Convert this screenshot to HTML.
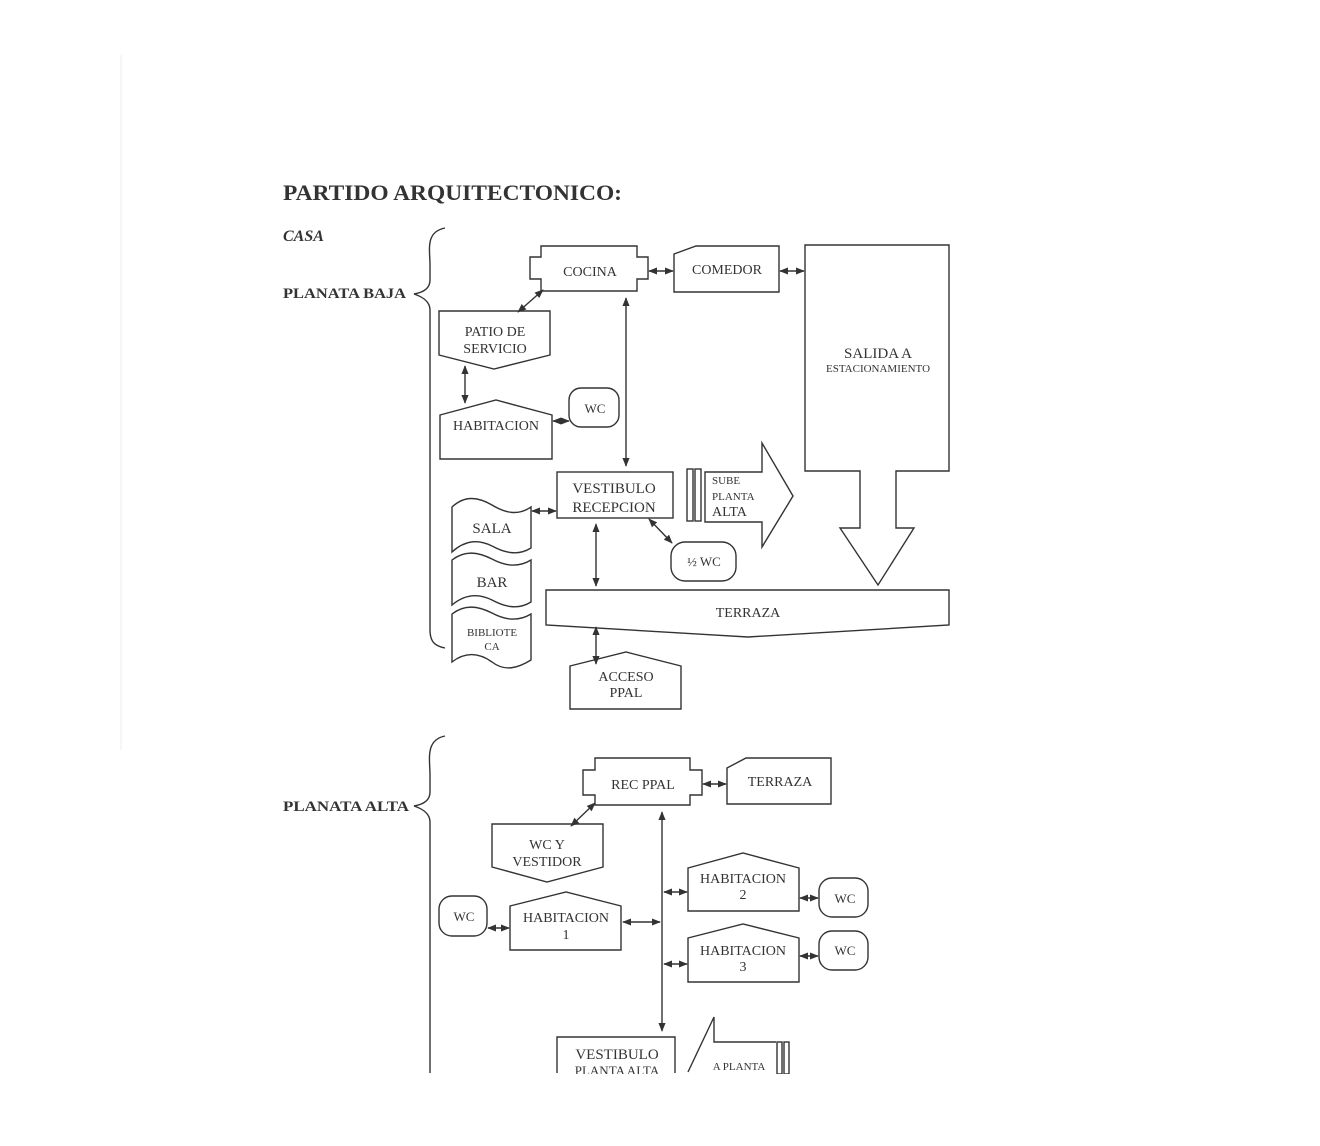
<!DOCTYPE html>
<html><head><meta charset="utf-8"><style>
html,body{margin:0;padding:0;background:#fff;}
svg{display:block;}
text{font-family:"Liberation Serif",serif;fill:#333;}
</style></head><body>
<svg width="1320" height="1146" viewBox="0 0 1320 1146" xmlns="http://www.w3.org/2000/svg">
<defs>
<marker id="a" viewBox="0 0 10 10" refX="9" refY="5" markerWidth="9" markerHeight="9" markerUnits="userSpaceOnUse" orient="auto-start-reverse"><path d="M0,1 L10,5 L0,9 Z" fill="#333"/></marker>
</defs>
<line x1="121" y1="55" x2="121" y2="750" stroke="#eee" stroke-width="1"/>
<g stroke="#333" stroke-width="1.4" fill="none">
<!-- braces -->
<path d="M445,228 C425,232 430,250 430,265 L430,280 C430,290 420,293 414,294 C420,296 430,300 430,310 L430,630 C430,642 435,646 445,648"/>
<path d="M445,736 C425,740 430,760 430,775 L430,792 C430,802 420,805 414,806 C420,808 430,812 430,822 L430,1073"/>
<!-- cocina -->
<path d="M541,246 H637 V257 H648 V279 H637 V291 H541 V279 H530 V257 H541 Z"/>
<path d="M674,254 L696,246 H779 V292 H674 Z"/>
<path d="M805,245 H949 V471 H896 V528 H914 L878,585 L840,528 H860 V471 H805 Z"/>
<path d="M439,311 H550 V355 L494,369 L439,355 Z"/>
<path d="M440,415 L496,400 L552,415 V459 H440 Z"/>
<rect x="569" y="388" width="50" height="39" rx="12"/>
<rect x="557" y="472" width="116" height="46"/>
<rect x="687" y="469" width="6" height="52"/><rect x="695" y="469" width="6" height="52"/>
<path d="M705,472 H762 V443 L793,496 L762,547 V522 H705 Z"/>
<rect x="671" y="542" width="65" height="39" rx="14"/>
<path d="M452,507 C465,495 478,497 492,505 C505,513 518,516 531,507 V548 C518,556 505,553 492,546 C478,539 465,540 452,552 Z"/>
<path d="M452,560 C465,550 478,552 492,559 C505,566 518,568 531,560 V602 C518,610 505,607 492,600 C478,593 465,594 452,605 Z"/>
<path d="M452,614 C465,604 478,606 492,613 C505,620 518,622 531,614 V660 C518,668 505,672 492,662 C478,652 465,652 452,662 Z"/>
<path d="M546,590 H949 V625 L748,637 L546,625 Z"/>
<path d="M570,666 L626,652 L681,666 V709 H570 Z"/>
<!-- arrows upper -->
<g marker-start="url(#a)" marker-end="url(#a)">
<line x1="649" y1="271" x2="673" y2="271"/>
<line x1="780" y1="271" x2="804" y2="271"/>
<line x1="543" y1="290" x2="518" y2="312"/>
<line x1="465" y1="366" x2="465" y2="403"/>
<line x1="553" y1="421" x2="569" y2="421"/>
<line x1="626" y1="298" x2="626" y2="466"/>
<line x1="532" y1="511" x2="556" y2="511"/>
<line x1="649" y1="519" x2="672" y2="543"/>
<line x1="596" y1="524" x2="596" y2="586"/>
<line x1="596" y1="627" x2="596" y2="664"/>
</g>
<!-- lower -->
<path d="M595,758 H690 V770 H702 V795 H690 V805 H595 V795 H583 V770 H595 Z"/>
<path d="M727,768 L746,758 H831 V804 H727 Z"/>
<path d="M492,824 H603 V867 L547,882 L492,867 Z"/>
<path d="M688,868 L743,853 L799,868 V911 H688 Z"/>
<path d="M688,938 L743,924 L799,938 V982 H688 Z"/>
<path d="M510,906 L566,892 L621,906 V950 H510 Z"/>
<rect x="819" y="878" width="49" height="39" rx="13"/>
<rect x="819" y="931" width="49" height="39" rx="13"/>
<rect x="439" y="896" width="48" height="40" rx="13"/>
<path d="M557,1073 V1037 H675 V1073"/>
<path d="M688,1072 L714,1017 V1042 H776"/>
<rect x="777" y="1042" width="5" height="32"/><rect x="784" y="1042" width="5" height="32"/>
<g marker-start="url(#a)" marker-end="url(#a)">
<line x1="703" y1="784" x2="726" y2="784"/>
<line x1="595" y1="803" x2="571" y2="826"/>
<line x1="662" y1="812" x2="662" y2="1031"/>
<line x1="664" y1="892" x2="687" y2="892"/>
<line x1="664" y1="964" x2="687" y2="964"/>
<line x1="800" y1="898" x2="818" y2="898"/>
<line x1="800" y1="956" x2="818" y2="956"/>
<line x1="488" y1="928" x2="509" y2="928"/>
<line x1="623" y1="922" x2="660" y2="922"/>
</g>
</g>
<text x="283" y="200" font-size="22" font-weight="bold" textLength="339" lengthAdjust="spacingAndGlyphs">PARTIDO ARQUITECTONICO:</text>
<text x="283" y="241" font-size="16" font-weight="bold" font-style="italic">CASA</text>
<text x="283" y="298" font-size="15" font-weight="bold" textLength="123" lengthAdjust="spacingAndGlyphs">PLANATA BAJA</text>
<text x="283" y="811" font-size="15" font-weight="bold" textLength="126" lengthAdjust="spacingAndGlyphs">PLANATA ALTA</text>
<g font-size="14" text-anchor="middle">
<text x="590" y="276">COCINA</text>
<text x="727" y="274">COMEDOR</text>
<text x="878" y="358" font-size="15">SALIDA A</text>
<text x="878" y="372" font-size="11">ESTACIONAMIENTO</text>
<text x="495" y="336">PATIO DE</text>
<text x="495" y="353">SERVICIO</text>
<text x="496" y="430">HABITACION</text>
<text x="595" y="413" font-size="13">WC</text>
<text x="614" y="493" font-size="15">VESTIBULO</text>
<text x="614" y="512" font-size="15">RECEPCION</text>
<text x="712" y="484" font-size="11" text-anchor="start">SUBE</text>
<text x="712" y="500" font-size="11" text-anchor="start">PLANTA</text>
<text x="712" y="516" font-size="14" text-anchor="start">ALTA</text>
<text x="704" y="566" font-size="13">½ WC</text>
<text x="492" y="533" font-size="15">SALA</text>
<text x="492" y="587" font-size="15">BAR</text>
<text x="492" y="636" font-size="11">BIBLIOTE</text>
<text x="492" y="650" font-size="11">CA</text>
<text x="748" y="617">TERRAZA</text>
<text x="626" y="681">ACCESO</text>
<text x="626" y="697">PPAL</text>
<text x="643" y="789">REC PPAL</text>
<text x="780" y="786">TERRAZA</text>
<text x="547" y="849">WC Y</text>
<text x="547" y="866">VESTIDOR</text>
<text x="743" y="883">HABITACION</text>
<text x="743" y="899">2</text>
<text x="743" y="955">HABITACION</text>
<text x="743" y="971">3</text>
<text x="566" y="922">HABITACION</text>
<text x="566" y="939">1</text>
<text x="845" y="903" font-size="13">WC</text>
<text x="845" y="955" font-size="13">WC</text>
<text x="464" y="921" font-size="13">WC</text>
<text x="617" y="1059" font-size="15">VESTIBULO</text>
<text x="617" y="1075" font-size="13">PLANTA ALTA</text>
<text x="739" y="1070" font-size="11">A PLANTA</text>
</g>
<rect x="0" y="1074" width="1320" height="72" fill="#fff"/>
</svg>
</body></html>
